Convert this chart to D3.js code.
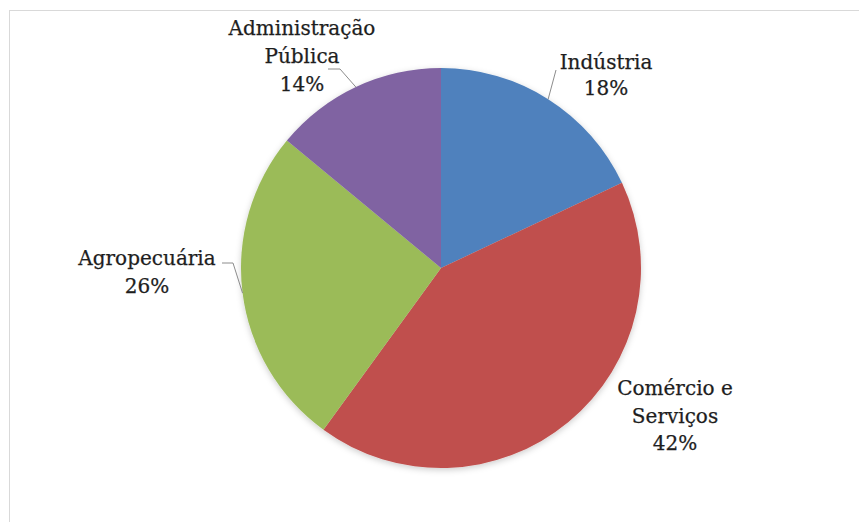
<!DOCTYPE html>
<html>
<head>
<meta charset="utf-8">
<script src="https://cdn.jsdelivr.net/npm/d3@7/dist/d3.min.js"></script>
<style>
  html, body { margin: 0; padding: 0; background: #ffffff; }
  svg { display: block; }
  .lbl { font-family: "DejaVu Serif", "Liberation Serif", serif; font-size: 20px; fill: #1e1e1e; stroke: #1e1e1e; stroke-width: 0.25px; }
</style>
</head>
<body>
<svg id="chart" width="859" height="522"></svg>
<script>
// Sectors and their share of the total (%), clockwise from 12 o'clock
const categories = ["Indústria", "Comércio e Serviços", "Agropecuária", "Administração Pública"];
const shares = [18, 42, 26, 14];
// Label text lines for each sector
const labelLines = [
  ["Indústria"],
  ["Comércio e", "Serviços"],
  ["Agropecuária"],
  ["Administração", "Pública"]
];
const colors = ["#4F81BD", "#C0504D", "#9BBB59", "#8064A2"];

// Label placement relative to the pie centre (first-line baseline), line spacing,
// and optional leader-line start / elbow offsets relative to the label anchor.
const labelLayout = [
  { x: 165, y: -199, lh: 26, leader: [[-50, 1]] },
  { x: 234, y: 127, lh: 27.5, leader: null },
  { x: -294, y: -3, lh: 28, leader: [[75, -2], [86, -2]] },
  { x: -139, y: -233, lh: 28, leader: [[26, 34], [38, 34]] }
];

const svg = d3.select("#chart");
const W = 859, H = 522;
const cx = 441, cy = 268, R = 200;

// Chart frame
svg.append("rect")
  .attr("x", 9.5).attr("y", 10.5)
  .attr("width", W + 20).attr("height", H + 20)
  .attr("fill", "#ffffff")
  .attr("stroke", "#d9d9d9").attr("stroke-width", 1);

// Soft shadow under the pie
const defs = svg.append("defs");
const f = defs.append("filter").attr("id", "pieShadow")
  .attr("x", "-10%").attr("y", "-10%").attr("width", "120%").attr("height", "120%");
f.append("feDropShadow")
  .attr("dx", 0).attr("dy", 2).attr("stdDeviation", 3)
  .attr("flood-color", "#000").attr("flood-opacity", 0.2);

const pie = d3.pie().sort(null).value(d => d)
  .startAngle(0).endAngle(2 * Math.PI);
const arcs = pie(shares);
const arc = d3.arc().innerRadius(0).outerRadius(R);

const g = svg.append("g").attr("transform", `translate(${cx},${cy})`);

g.append("g").attr("filter", "url(#pieShadow)")
  .selectAll("path")
  .data(arcs)
  .join("path")
  .attr("d", arc)
  .attr("fill", (d, i) => colors[i]);

// Leader lines from label to the arc's mid angle
const line = d3.line();
arcs.forEach((a, i) => {
  const L = labelLayout[i];
  if (!L.leader) return;
  const mid = (a.startAngle + a.endAngle) / 2;
  const end = [R * Math.sin(mid), -R * Math.cos(mid)];
  const pts = L.leader.map(p => [L.x + p[0], L.y + p[1]]).concat([end]);
  g.append("path")
    .attr("d", line(pts))
    .attr("fill", "none")
    .attr("stroke", "#8c8c8c")
    .attr("stroke-width", 1);
});

// Data labels: name lines followed by the percentage
arcs.forEach((a, i) => {
  const L = labelLayout[i];
  const lines = labelLines[i].concat([shares[i] + "%"]);
  const t = g.append("text").attr("class", "lbl")
    .attr("text-anchor", "middle")
    .attr("x", L.x).attr("y", L.y);
  lines.forEach((s, k) => {
    t.append("tspan").attr("x", L.x).attr("y", L.y + k * L.lh).text(s);
  });
});
</script>
</body>
</html>
